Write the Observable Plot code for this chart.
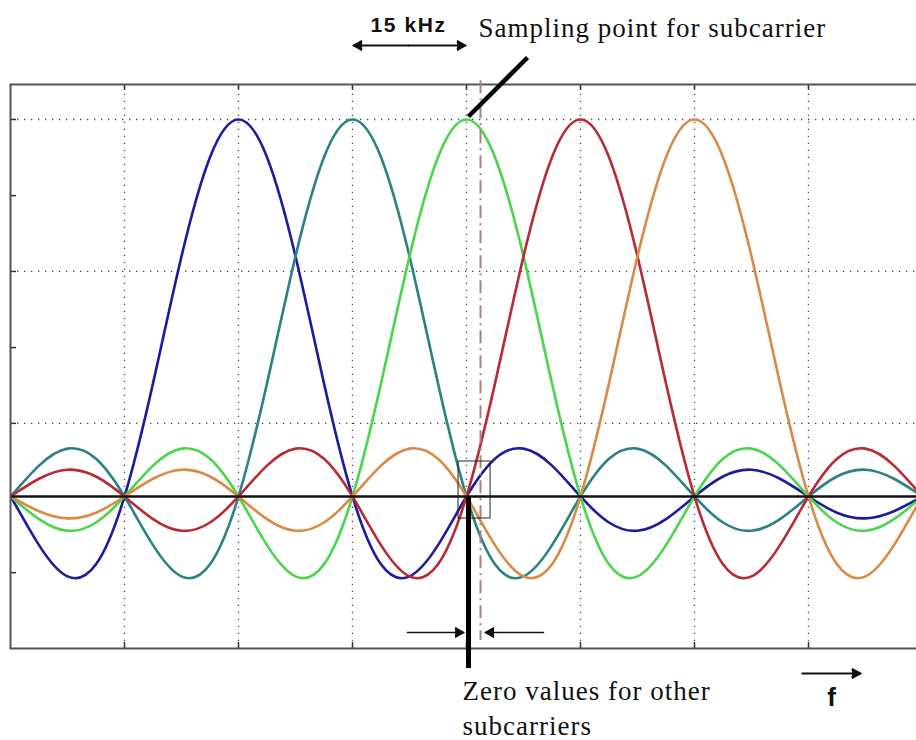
<!DOCTYPE html>
<html>
<head>
<meta charset="utf-8">
<script src="https://cdn.jsdelivr.net/npm/d3@7"></script>
<script src="https://cdn.jsdelivr.net/npm/@observablehq/plot@0.6"></script>
<style>
  html, body { margin: 0; padding: 0; background: #fff; }
  #chart svg { display: block; }
</style>
</head>
<body>
<div id="chart"></div>
<script>
// Subcarrier centres (in units of subcarrier spacing, 15 kHz) and colours
const centers = [2, 3, 4, 5, 6];
const colors = ["#1c1c9e", "#2a8282", "#4ad64a", "#b82a36", "#d98a45"];

// Pulse shape: offset (spacings) from centre -> amplitude
const pulseOffsets = [-6, -5.75, -5.5, -5.25, -5, -4.75, -4.5, -4.25, -4, -3.75, -3.5, -3.25, -3, -2.75, -2.5, -2.25, -2, -1.75, -1.5, -1.25, -1, -0.75, -0.5, -0.25, 0,
  0.25, 0.5, 0.75, 1, 1.25, 1.5, 1.75, 2, 2.25, 2.5, 2.75, 3, 3.25, 3.5, 3.75, 4, 4.25, 4.5, 4.75, 5, 5.25, 5.5, 5.75, 6];
const pulseValues = [0, -0.039, -0.058, -0.043, 0, 0.047, 0.071, 0.053, 0, -0.060, -0.091, -0.069, 0, 0.082, 0.127, 0.100, 0, -0.129, -0.212, -0.180, 0, 0.300, 0.637, 0.900, 1,
  0.900, 0.637, 0.300, 0, -0.180, -0.212, -0.129, 0, 0.100, 0.127, 0.082, 0, -0.069, -0.091, -0.060, 0, 0.053, 0.071, 0.047, 0, -0.043, -0.058, -0.039, 0];

// Axis grid / ticks
const xGrid = [1, 2, 3, 4, 5, 6, 7];
const yGrid = [1, 0.597, 0.194];
const yTicks = [1, 0.798, 0.597, 0.395, 0.194, -0.202];

// Annotation texts
const spacingLabel = "15 kHz";
const samplingLabel = "Sampling point for subcarrier";
const zeroLabel1 = "Zero values for other";
const zeroLabel2 = "subcarriers";
const freqLabel = "f";

const xDomain = [0, 8];
const yDomain = [-0.4032, 1.0928];

// build table
const curves = [];
centers.forEach((c, i) => {
  pulseOffsets.forEach((o, j) => curves.push({sc: i, x: c + o, y: pulseValues[j]}));
});

const pxX = 114, pxY = 377; // for tick lengths in data units
const tickLenX = 6 / pxX, tickLenY = 6 / pxY;
const yTop = yDomain[1], yBot = yDomain[0];

const serif = "'Liberation Serif', 'Times New Roman', serif";
const sans = "'Liberation Sans', Arial, sans-serif";

// arrow definitions (tail x, tip x, y)
const arrows = [
  {x1: 3.491, x2: 3.009, y: 1.1963, w: 1.8},
  {x1: 3.491, x2: 3.991, y: 1.1963, w: 1.8},
  {x1: 3.4825, x2: 3.974, y: -0.3607, w: 1.6},
  {x1: 4.675, x2: 4.167, y: -0.3607, w: 1.6},
  {x1: 6.947, x2: 7.456, y: -0.4695, w: 2.2}
];

const chart = Plot.plot({
  width: 916,
  height: 740,
  marginLeft: 10,
  marginRight: -6,
  marginTop: 84,
  marginBottom: 92,
  x: {domain: xDomain, axis: null},
  y: {domain: yDomain, axis: null},
  style: {background: "#fff", overflow: "visible"},
  marks: [
    // dotted grid
    Plot.ruleX(xGrid, {x: d => d, y1: yBot, y2: yTop, stroke: "#444", strokeWidth: 1.3, strokeDasharray: "1.3,5.7"}),
    Plot.ruleY(yGrid, {y: d => d, x1: 0, x2: 8, stroke: "#444", strokeWidth: 1.3, strokeDasharray: "1.3,5.7"}),
    // ticks
    Plot.ruleX(xGrid, {x: d => d, y1: yTop, y2: yTop - tickLenY, stroke: "#333", strokeWidth: 1.5}),
    Plot.ruleX(xGrid, {x: d => d, y1: yBot, y2: yBot + tickLenY, stroke: "#333", strokeWidth: 1.5}),
    Plot.ruleY(yTicks, {y: d => d, x1: 0, x2: tickLenX, stroke: "#333", strokeWidth: 1.5}),
    Plot.ruleY(yTicks, {y: d => d, x1: 8, x2: 8 - tickLenX, stroke: "#333", strokeWidth: 1.5}),
    // subcarrier curves
    ...centers.map((c, i) => Plot.line(curves.filter(d => d.sc === i), {
      x: "x", y: "y", stroke: colors[i], strokeWidth: 2.6, curve: "natural", clip: true
    })),
    // zero line
    Plot.ruleY([0], {x1: 0, x2: 8, stroke: "#111", strokeWidth: 2.4}),
    // frame
    Plot.frame({stroke: "#555", strokeWidth: 2}),
    // dash-dot sampling line
    Plot.ruleX([4.123], {y1: 1.103, y2: -0.382, stroke: "#a88282", strokeWidth: 2, strokeDasharray: "13,5,2,5"}),
    // small box around zero crossing
    Plot.rect([{x1: 3.930, x2: 4.211, y1: -0.0584, y2: 0.0928}], {x1: "x1", x2: "x2", y1: "y1", y2: "y2", fill: "none", stroke: "#222", strokeWidth: 1}),
    // pointer to sampling point
    Plot.link([{x1: 4.0175, y1: 1.008, x2: 4.535, y2: 1.1645}], {x1: "x1", y1: "y1", x2: "x2", y2: "y2", stroke: "#000", strokeWidth: 4.5}),
    // pointer to zero values
    Plot.link([{x1: 4.0175, y1: 0, x2: 4.0175, y2: -0.455}], {x1: "x1", y1: "y1", x2: "x2", y2: "y2", stroke: "#000", strokeWidth: 5}),
    // arrows with barbed filled heads
    Plot.arrow(arrows, {x1: "x1", x2: "x2", y1: "y", y2: "y", stroke: "#111", strokeWidth: "w", headLength: 13, headAngle: 45}),
    Plot.dot(arrows, {x: d => d.x2 - Math.sign(d.x2 - d.x1) * 0.045, y: "y", symbol: "triangle", r: 4.2,
      rotate: d => d.x2 > d.x1 ? 90 : -90, fill: "#111", stroke: "none"}),
    // texts
    Plot.text([spacingLabel], {x: 3.491, y: 1.2308, text: d => d, fontFamily: sans, fontWeight: "bold", fontSize: 21, lineAnchor: "bottom", textAnchor: "middle", fill: "#111"}),
    Plot.text([samplingLabel], {x: 4.105, y: 1.2175, text: d => d, fontFamily: serif, fontSize: 27, lineAnchor: "bottom", textAnchor: "start", fill: "#111"}),
    Plot.text([zeroLabel1], {x: 3.965, y: -0.541, text: d => d, fontFamily: serif, fontSize: 27, lineAnchor: "bottom", textAnchor: "start", fill: "#111"}),
    Plot.text([zeroLabel2], {x: 3.965, y: -0.632, text: d => d, fontFamily: serif, fontSize: 27, lineAnchor: "bottom", textAnchor: "start", fill: "#111"}),
    Plot.text([freqLabel], {x: 7.202, y: -0.5544, text: d => d, fontFamily: sans, fontWeight: "bold", fontSize: 26, lineAnchor: "bottom", textAnchor: "middle", fill: "#111"})
  ]
});

// widen the annotation lettering a little, as in the original image
const spacing = new Map([[spacingLabel, "1.6px"], [samplingLabel, "1.0px"], [zeroLabel1, "1.0px"], [zeroLabel2, "1.0px"]]);
d3.select(chart).selectAll("text").each(function () {
  const s = spacing.get(this.textContent);
  if (s) this.setAttribute("letter-spacing", s);
});
document.getElementById("chart").appendChild(chart);
</script>
</body>
</html>
